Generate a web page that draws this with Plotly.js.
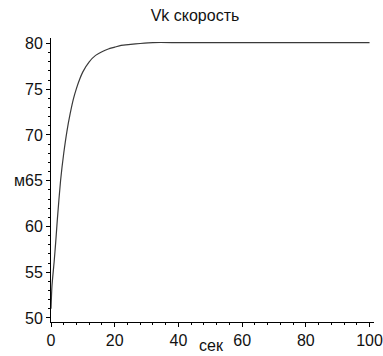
<!DOCTYPE html>
<html>
<head>
<meta charset="utf-8">
<script src="https://cdn.plot.ly/plotly-3.0.1.min.js"></script>
<style>html,body{margin:0;padding:0;background:#fff;}#chart{width:383px;height:356px;}</style>
</head>
<body>
<div id="chart"></div>
<script>
// Time, seconds
var timeSec = [0, 0.3, 1, 1.5, 2, 3, 4, 5, 6, 7, 8, 9, 10, 12, 14, 16, 18, 20, 22, 25, 28, 32, 40, 50, 60, 70, 80, 90, 100];
// Speed Vk, m
var speedVk = [51.0, 53.5, 56.2, 58.4, 60.8, 65.0, 68.0, 70.4, 72.3, 73.9, 75.1, 76.1, 76.9, 78.0, 78.7, 79.1, 79.4, 79.6, 79.8, 79.9, 80.0, 80.1, 80.1, 80.1, 80.1, 80.1, 80.1, 80.1, 80.1];
var xTicks = [0, 20, 40, 60, 80, 100];
var yTicks = [50, 55, 60, 65, 70, 75, 80];
var titleText = 'Vk скорость';
var xLabel = 'сек';
var yLabel = 'м';

var fontFam = '"Liberation Sans", Arial, sans-serif';
var trace = {
  x: timeSec, y: speedVk, type: 'scatter', mode: 'lines',
  line: {color: '#3a3a3a', width: 1.2, shape: 'spline', smoothing: 0.6},
  hoverinfo: 'skip'
};
var layout = {
  width: 383, height: 356,
  margin: {l: 51, r: 9, t: 38, b: 34, pad: 0},
  paper_bgcolor: '#fff', plot_bgcolor: '#fff',
  showlegend: false,
  font: {family: fontFam, size: 16, color: '#111'},
  title: {text: titleText, x: 195/383, xref: 'container', xanchor: 'center',
          y: 1 - 15/356, yref: 'container', yanchor: 'middle',
          font: {family: fontFam, size: 16, color: '#111'}},
  xaxis: {range: [0, 101.4], tickvals: xTicks, ticks: 'outside', ticklen: 4, tickwidth: 1, tickcolor: '#000',
          showline: true, linecolor: '#000', linewidth: 1, showgrid: false, zeroline: false,
          minor: {dtick: 4, tick0: 0, ticks: 'outside', ticklen: 2, tickcolor: '#000', showgrid: false},
          tickfont: {family: fontFam, size: 16, color: '#111'}, fixedrange: true},
  yaxis: {range: [49.56, 80.6], tickvals: yTicks, ticks: 'outside', ticklen: 4, tickwidth: 1, tickcolor: '#000',
          showline: true, linecolor: '#000', linewidth: 1, showgrid: false, zeroline: false,
          minor: {dtick: 1, tick0: 0, ticks: 'outside', ticklen: 2, tickcolor: '#000', showgrid: false},
          tickfont: {family: fontFam, size: 16, color: '#111'}, fixedrange: true},
  annotations: [
    {text: yLabel, xref: 'paper', x: -24/323, xanchor: 'right', yref: 'y', y: 65, yanchor: 'middle',
     showarrow: false, font: {family: fontFam, size: 16, color: '#111'}},
    {text: xLabel, xref: 'x', x: 50.5, xanchor: 'center', yref: 'paper', y: -23/284, yanchor: 'middle',
     showarrow: false, font: {family: fontFam, size: 16, color: '#111'}}
  ]
};
Plotly.newPlot('chart', [trace], layout, {displayModeBar: false, staticPlot: true});
</script>
</body>
</html>
